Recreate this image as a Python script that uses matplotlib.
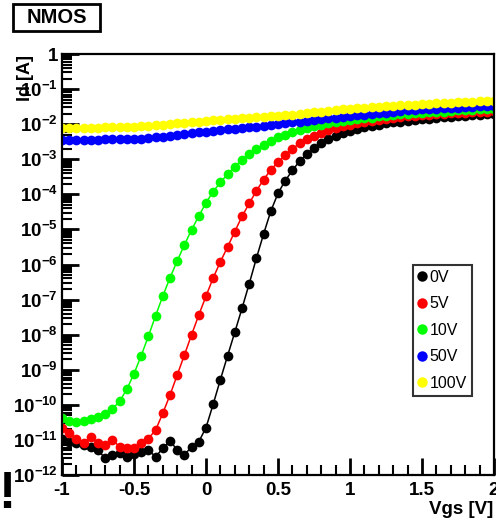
import numpy as np
import matplotlib
matplotlib.use("Agg")
import matplotlib.pyplot as plt
from matplotlib.patches import Rectangle
from matplotlib.ticker import LogLocator, FixedLocator, NullFormatter

plt.rcParams["font.family"] = ["Liberation Sans", "DejaVu Sans"]
plt.rcParams["mathtext.fontset"] = "custom"
plt.rcParams["mathtext.rm"] = "Liberation Sans:bold"
plt.rcParams["mathtext.bf"] = "Liberation Sans:bold"
plt.rcParams["mathtext.it"] = "Liberation Sans:bold"

# Gate sweep: -1 V to 2 V in 50 mV steps
vgs = np.linspace(-1.0, 2.0, 61)

# log10(Id [A]) for each drain/stress condition
log_id_0v = [
    -10.96, -11.05, -11.10, -11.15, -11.20, -11.30, -11.52, -11.43, -11.38, -11.49,
    -11.40, -11.35, -11.29, -11.48, -11.24, -11.02, -11.29, -11.43, -11.19, -11.05,
    -10.65, -9.98, -9.28, -8.60, -7.93, -7.25, -6.55, -5.82, -5.13, -4.48,
    -3.97, -3.61, -3.32, -3.05, -2.85, -2.68, -2.54, -2.43, -2.34, -2.26,
    -2.20, -2.14, -2.09, -2.05, -2.01, -1.98, -1.95, -1.93, -1.90, -1.88,
    -1.86, -1.84, -1.82, -1.80, -1.79, -1.77, -1.76, -1.75, -1.73, -1.72,
    -1.71,
]
log_id_5v = [
    -10.67, -10.81, -10.96, -11.10, -10.91, -11.10, -11.15, -11.00, -11.19, -11.24,
    -11.24, -11.10, -10.96, -10.72, -10.24, -9.72, -9.15, -8.58, -8.00, -7.44,
    -6.90, -6.38, -5.92, -5.50, -5.06, -4.63, -4.26, -3.90, -3.58, -3.30,
    -3.08, -2.88, -2.70, -2.55, -2.43, -2.33, -2.24, -2.17, -2.11, -2.06,
    -2.02, -1.98, -1.95, -1.92, -1.89, -1.86, -1.83, -1.80, -1.78, -1.76,
    -1.74, -1.73, -1.71, -1.70, -1.69, -1.68, -1.67, -1.66, -1.65, -1.64,
    -1.63,
]
log_id_10v = [
    -10.37, -10.45, -10.48, -10.46, -10.41, -10.35, -10.26, -10.12, -9.90, -9.56,
    -9.11, -8.60, -8.04, -7.46, -6.90, -6.38, -5.90, -5.44, -5.01, -4.62,
    -4.24, -3.92, -3.66, -3.42, -3.21, -3.02, -2.85, -2.72, -2.60, -2.48,
    -2.38, -2.30, -2.23, -2.16, -2.10, -2.05, -2.01, -1.97, -1.94, -1.91,
    -1.88, -1.85, -1.83, -1.81, -1.78, -1.76, -1.74, -1.72, -1.71, -1.69,
    -1.68, -1.66, -1.65, -1.64, -1.62, -1.61, -1.60, -1.59, -1.58, -1.57,
    -1.56,
]
log_id_50v = [
    -2.45, -2.45, -2.45, -2.44, -2.44, -2.44, -2.43, -2.43, -2.43, -2.42,
    -2.42, -2.41, -2.40, -2.38, -2.36, -2.34, -2.31, -2.28, -2.26, -2.23,
    -2.21, -2.19, -2.17, -2.15, -2.13, -2.11, -2.09, -2.07, -2.05, -2.03,
    -2.00, -1.97, -1.95, -1.93, -1.90, -1.88, -1.85, -1.83, -1.81, -1.79,
    -1.77, -1.75, -1.73, -1.71, -1.69, -1.67, -1.65, -1.63, -1.61, -1.60,
    -1.58, -1.57, -1.56, -1.55, -1.54, -1.53, -1.51, -1.50, -1.49, -1.48,
    -1.47,
]
log_id_100v = [
    -2.12, -2.12, -2.11, -2.11, -2.10, -2.10, -2.09, -2.09, -2.08, -2.08,
    -2.07, -2.06, -2.04, -2.03, -2.01, -2.00, -1.98, -1.96, -1.94, -1.93,
    -1.91, -1.89, -1.88, -1.86, -1.85, -1.83, -1.82, -1.80, -1.79, -1.78,
    -1.77, -1.75, -1.73, -1.70, -1.68, -1.66, -1.64, -1.62, -1.60, -1.58,
    -1.57, -1.55, -1.53, -1.52, -1.50, -1.49, -1.47, -1.46, -1.45, -1.44,
    -1.43, -1.42, -1.41, -1.40, -1.39, -1.38, -1.37, -1.36, -1.35, -1.34,
    -1.33,
]

series_labels = ["0V", "5V", "10V", "50V", "100V"]
series_colors = ["#000000", "#ff0000", "#00ff00", "#0000ff", "#ffff00"]
series_values = [log_id_0v, log_id_5v, log_id_10v, log_id_50v, log_id_100v]

x_ticks = [-1, -0.5, 0, 0.5, 1, 1.5, 2]
x_tick_labels = ["-1", "-0.5", "0", "0.5", "1", "1.5", "2"]
y_exponents = list(range(-12, 1))

W, H = 496, 523
fig = plt.figure(figsize=(W / 100, H / 100), dpi=100)
ax = fig.add_axes([62 / W, 1 - 475 / H, 432 / W, (475 - 54) / H])

for vals, col, lab in zip(series_values, series_colors, series_labels):
    ax.plot(vgs, 10.0 ** np.array(vals), color=col, lw=1.1, marker="o",
            markersize=7.0, markeredgewidth=0, label=lab)

ax.set_yscale("log")
ax.set_xlim(-1, 2)
ax.set_ylim(1e-12, 1)

ax.xaxis.set_major_locator(FixedLocator(x_ticks))
ax.xaxis.set_minor_locator(FixedLocator(np.round(np.arange(-1, 2.001, 0.1), 2)))
ax.set_xticklabels(x_tick_labels)

ax.yaxis.set_major_locator(FixedLocator([10.0 ** e for e in y_exponents]))
ax.yaxis.set_minor_locator(LogLocator(base=10, subs=np.arange(2, 10), numticks=100))
ax.yaxis.set_minor_formatter(NullFormatter())
ylabels = []
for e in y_exponents:
    ylabels.append("1" if e == 0 else r"$\mathbf{10^{%d}}$" % e)
ax.set_yticklabels(ylabels)

ax.tick_params(axis="both", which="major", direction="in", length=12, width=2.0,
               labelsize=13.5, top=False, right=False)
ax.tick_params(axis="y", which="major", pad=3)
ax.tick_params(axis="x", which="major", pad=5)
ax.tick_params(axis="both", which="minor", direction="in", length=7, width=1.5,
               top=False, right=False)
for lab in ax.get_xticklabels() + ax.get_yticklabels():
    lab.set_fontweight("bold")

for sp in ax.spines.values():
    sp.set_linewidth(1.6)

# axis titles
fig.text(25 / W, 1 - 78 / H, "Id [A]", rotation=90, fontsize=13, fontweight="bold",
         ha="center", va="center")
fig.text(461 / W, 1 - 509 / H, "Vgs [V]", fontsize=13.5, fontweight="bold",
         ha="center", va="center")

# boxed panel tag
fig.patches.append(Rectangle((13 / W, 1 - 31 / H), 87 / W, 27 / H,
                             transform=fig.transFigure, fc="white", ec="black",
                             lw=2.0, zorder=1))
fig.text(56.5 / W, 1 - 17.5 / H, "NMOS", fontsize=14.5, fontweight="bold",
         ha="center", va="center", zorder=2)
fig.text(7 / W, 1 - 494 / H, "!", fontsize=37, fontweight="bold",
         ha="center", va="center")

leg = ax.legend(loc="upper left",
                bbox_to_anchor=((413 - 62) / 432, (475 - 265) / 421),
                frameon=True, fancybox=False, edgecolor="black", fontsize=11.5,
                handlelength=0.5, handletextpad=0.25, borderpad=0.3,
                labelspacing=0.72, borderaxespad=0)
leg.get_frame().set_linewidth(1.5)
for h in leg.legend_handles:
    h.set_linestyle("none")
    h.set_markersize(7.5)

fig.savefig("out.png", dpi=100)
